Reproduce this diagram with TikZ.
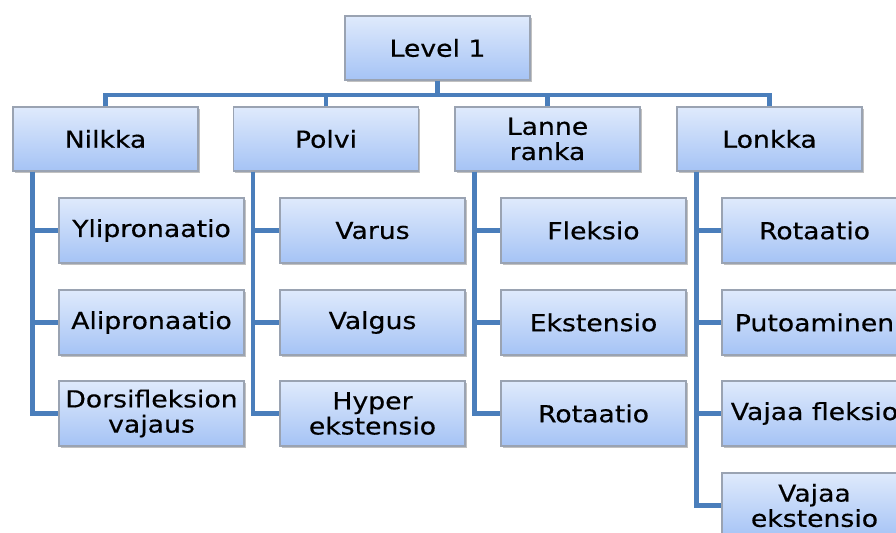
\documentclass[tikz,border=0pt]{standalone}
\usepackage{fontspec}
\setmainfont[FakeStretch=1.14,FakeBold=0.4]{DejaVu Sans}
\usetikzlibrary{shadows}
\definecolor{linecol}{HTML}{4A7EBB}
\definecolor{boxtop}{HTML}{DFEAFC}
\definecolor{boxbot}{HTML}{A5C3F5}
\definecolor{boxdraw}{HTML}{9AA3B2}
\tikzset{
  box/.style={draw=boxdraw, line width=0.6pt, top color=boxtop, bottom color=boxbot,
    minimum width=92.5pt, minimum height=32.5pt, inner sep=0pt, align=center,
    font=\fontsize{11.7}{12.6}\selectfont, text=black,
    drop shadow={shadow xshift=0.9pt, shadow yshift=-0.9pt, opacity=0.35, fill=black!70}},
  conn/.style={draw=linecol, line width=2.35pt, line join=miter, line cap=butt}
}
\begin{document}
\begin{tikzpicture}[x=0.5pt,y=-0.5pt]
\useasboundingbox (0,0) rectangle (896,532);
\clip (0,0) rectangle (896,532);
% level 1
\node[box, minimum height=32pt] (L1) at (437.5,48) {Level 1};
% level 2
\node[box, minimum height=32pt] (nil) at (105.5,139) {Nilkka};
\node[box, minimum height=32pt] (pol) at (326,139) {Polvi};
\node[box, minimum height=32pt] (lan) at (547.5,139) {Lanne\\ranka};
\node[box, minimum height=32pt] (lon) at (769.5,139) {Lonkka};
% children Nilkka
\node[box] (n1) at (151.5,230.5) {Ylipronaatio};
\node[box] (n2) at (151.5,322.5) {Alipronaatio};
\node[box] (n3) at (151.5,413.5) {Dorsifleksion\\vajaus};
% children Polvi
\node[box] (p1) at (372.5,230.5) {Varus};
\node[box] (p2) at (372.5,322.5) {Valgus};
\node[box] (p3) at (372.5,413.5) {Hyper\\ekstensio};
% children Lanne ranka
\node[box] (r1) at (593.5,230.5) {Fleksio};
\node[box] (r2) at (593.5,322.5) {Ekstensio};
\node[box] (r3) at (593.5,413.5) {Rotaatio};
% children Lonkka
\node[box] (k1) at (814.5,230.5) {Rotaatio};
\node[box] (k2) at (814.5,322.5) {Putoaminen};
\node[box] (k3) at (814.5,413.5) {Vajaa fleksio};
\node[box] (k4) at (814.5,505.5) {Vajaa\\ekstensio};
% top bus
\coordinate (bus) at (437.5,95);
\draw[conn] (L1.south) -- (bus);
\draw[conn] (nil.north) -- (nil.north |- bus) -- (lon.north |- bus) -- (lon.north);
\draw[conn] (pol.north) -- (pol.north |- bus);
\draw[conn] (lan.north) -- (lan.north |- bus);
% child connectors
\coordinate (nx) at ([xshift=10pt]nil.south west);
\coordinate (px) at ([xshift=10pt]pol.south west);
\coordinate (rx) at ([xshift=10pt]lan.south west);
\coordinate (kx) at ([xshift=10pt]lon.south west);
\draw[conn] (nx) |- (n3.west);
\draw[conn] (nx |- n1.west) -- (n1.west);
\draw[conn] (nx |- n2.west) -- (n2.west);
\draw[conn] (px) |- (p3.west);
\draw[conn] (px |- p1.west) -- (p1.west);
\draw[conn] (px |- p2.west) -- (p2.west);
\draw[conn] (rx) |- (r3.west);
\draw[conn] (rx |- r1.west) -- (r1.west);
\draw[conn] (rx |- r2.west) -- (r2.west);
\draw[conn] (kx) |- (k4.west);
\draw[conn] (kx |- k1.west) -- (k1.west);
\draw[conn] (kx |- k2.west) -- (k2.west);
\draw[conn] (kx |- k3.west) -- (k3.west);
\end{tikzpicture}
\end{document}
